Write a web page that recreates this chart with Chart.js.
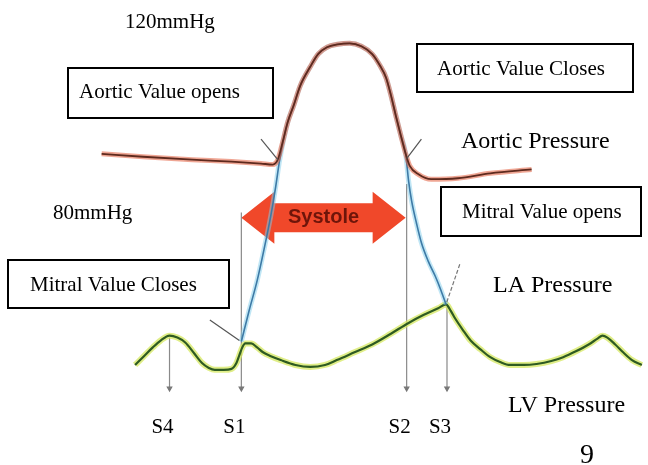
<!DOCTYPE html>
<html>
<head>
<meta charset="utf-8">
<script src="https://cdn.jsdelivr.net/npm/chart.js@4.4.1/dist/chart.umd.min.js"></script>
<style>
  html, body { margin: 0; padding: 0; background: #fff; }
  #wrap { width: 648px; height: 465px; }
</style>
</head>
<body>
<div id="wrap"><canvas id="cycleChart" width="648" height="465"></canvas></div>
<script>
// x = time along the cycle, y = pressure level (both in figure units)

// Aortic pressure
const aorticT = [98, 140, 190, 230, 260, 272, 277, 282, 287, 293, 300, 310, 318, 327, 338, 350, 362, 373, 381, 387, 392, 397, 402, 407, 411, 420, 433, 460, 493, 535];
const aorticP = [313, 310, 307, 305, 303, 302, 307, 325, 345, 362, 383, 402, 415, 422, 425, 426, 423, 415, 403, 391, 373, 352, 332, 313, 301, 292, 287, 288, 293, 297];

// LV pressure during systole (isovolumic rise, ejection, isovolumic fall)
const lvT = [240, 248, 256, 263, 270, 275, 279, 287, 293, 300, 310, 318, 327, 338, 350, 362, 373, 381, 387, 392, 397, 402, 407, 410, 413, 418, 423, 430, 437, 443, 448];
const lvP = [121, 153, 183, 215, 250, 280, 307, 345, 362, 383, 402, 415, 422, 425, 426, 423, 415, 403, 391, 373, 352, 332, 313, 285, 265, 242, 222, 203, 188, 173, 159];

// LA pressure / LV filling
const laT = [132, 141, 150, 158, 167, 175, 183, 192, 200, 207, 213, 222, 230, 235, 238, 241, 244, 250, 256, 262, 270, 280, 295, 310, 325, 337, 355, 373, 392, 410, 425, 440, 448, 453, 457, 465, 473, 483, 493, 503, 513, 527, 540, 555, 567, 580, 593, 602, 607, 612, 620, 628, 637, 647];
const laP = [97, 106, 115, 122, 127, 125, 120, 109, 99, 94, 92, 92, 93, 99, 107, 115, 119, 119, 115, 110, 106, 102, 97, 95, 97, 102, 110, 118, 129, 140, 148, 155, 159, 152, 145, 133, 122, 113, 105, 100, 97, 97, 98, 101, 105, 111, 118, 124, 127, 125, 118, 110, 102, 97];

// valve event markers (short strokes)
const aoOpenT = [260, 277],  aoOpenP = [328, 307];
const aoCloseT = [423, 408], aoCloseP = [328, 308];
const miCloseT = [208, 238], miCloseP = [143, 122];
const miOpenT = [462, 448],  miOpenP = [200, 159];

// heart sounds
const soundLabels = ["S4", "S1", "S2", "S3"];
const soundT = [167, 240, 408, 449];
const soundTop = [125, 253, 282, 159];
const soundBase = 73;

// systole runs from S1 to S2
const systoleStart = soundT[1];
const systoleEnd = soundT[2];
const systoleLevel = 247.5;

function pts(t, p) {
  return t.map((v, i) => ({ x: v, y: p[i] }));
}

function curve(t, p, color, width, order) {
  return {
    data: pts(t, p),
    borderColor: color,
    borderWidth: width,
    pointRadius: 0,
    cubicInterpolationMode: "monotone",
    fill: false,
    clip: false,
    order: order
  };
}

const datasets = [
  curve(aorticT, aorticP, "rgba(226,92,60,0.55)", 5, 6),
  curve(aorticT, aorticP, "#5e2a1e", 1.8, 5),
  curve(lvT, lvP, "rgba(130,205,235,0.5)", 5, 8),
  curve(lvT, lvP, "#3d7aa6", 1.6, 7),
  curve(laT, laP, "rgba(214,232,96,0.75)", 6, 10),
  curve(laT, laP, "#2e5b22", 2.2, 9),
  curve(aoOpenT, aoOpenP, "#555", 1.2, 4),
  curve(aoCloseT, aoCloseP, "#555", 1.2, 4),
  curve(miCloseT, miCloseP, "#555", 1.2, 4)
];

const miOpen = curve(miOpenT, miOpenP, "#777", 1.2, 4);
miOpen.borderDash = [4, 2];
datasets.push(miOpen);

soundT.forEach((t, i) => {
  datasets.push({
    data: [{ x: t, y: soundTop[i] }, { x: t, y: soundBase }],
    borderColor: "#8a8a8a",
    borderWidth: 1.2,
    pointRadius: [0, 2.5],
    pointStyle: "triangle",
    rotation: 180,
    pointBackgroundColor: "#777",
    pointBorderColor: "#777",
    clip: false,
    order: 11
  });
});

// double arrow marking systole
const systoleArrow = {
  id: "systoleArrow",
  beforeDatasetsDraw(chart) {
    const { ctx, scales: { x, y } } = chart;
    const x0 = x.getPixelForValue(systoleStart);
    const x1 = x.getPixelForValue(systoleEnd) - 1;
    const yc = y.getPixelForValue(systoleLevel);
    const shaft = 14.5, head = 26, len = 33;
    ctx.save();
    ctx.beginPath();
    ctx.moveTo(x0, yc);
    ctx.lineTo(x0 + len, yc - head);
    ctx.lineTo(x0 + len, yc - shaft);
    ctx.lineTo(x1 - len, yc - shaft);
    ctx.lineTo(x1 - len, yc - head);
    ctx.lineTo(x1, yc);
    ctx.lineTo(x1 - len, yc + head);
    ctx.lineTo(x1 - len, yc + shaft);
    ctx.lineTo(x0 + len, yc + shaft);
    ctx.lineTo(x0 + len, yc + head);
    ctx.closePath();
    ctx.fillStyle = "#f0482a";
    ctx.fill();
    ctx.fillStyle = "#6e150a";
    ctx.font = 'bold 20px "Liberation Sans", Arial, sans-serif';
    ctx.textAlign = "center";
    ctx.textBaseline = "middle";
    ctx.fillText("Systole", (x0 + x1) / 2, yc);
    ctx.restore();
  }
};

// boxed captions and free labels
const boxes = [
  { text: "Aortic Value opens",  x1: 68,  y1: 68,  x2: 273, y2: 118, tx: 79,  ty: 98 },
  { text: "Aortic Value Closes", x1: 417, y1: 44,  x2: 633, y2: 92,  tx: 437, ty: 75 },
  { text: "Mitral Value opens",  x1: 441, y1: 187, x2: 641, y2: 236, tx: 462, ty: 218 },
  { text: "Mitral Value Closes", x1: 8,   y1: 260, x2: 229, y2: 308, tx: 30,  ty: 291 }
];
const labels = [
  { text: "120mmHg", x: 125, y: 28, size: 21 },
  { text: "80mmHg", x: 53, y: 219, size: 21 },
  { text: "Aortic Pressure", x: 461, y: 148, size: 24 },
  { text: "LA Pressure", x: 493, y: 292, size: 24 },
  { text: "LV Pressure", x: 508, y: 412, size: 24 },
  { text: "9", x: 580, y: 463, size: 28 }
];

const captions = {
  id: "captions",
  afterDatasetsDraw(chart) {
    const { ctx, scales: { x } } = chart;
    ctx.save();
    ctx.textAlign = "left";
    ctx.textBaseline = "alphabetic";
    ctx.fillStyle = "#000";
    ctx.strokeStyle = "#000";
    ctx.lineWidth = 2;
    boxes.forEach(b => {
      ctx.fillStyle = "#fff";
      ctx.fillRect(b.x1, b.y1, b.x2 - b.x1, b.y2 - b.y1);
      ctx.strokeRect(b.x1, b.y1, b.x2 - b.x1, b.y2 - b.y1);
      ctx.fillStyle = "#000";
      ctx.font = '21px "Liberation Serif", "Times New Roman", serif';
      ctx.fillText(b.text, b.tx, b.ty);
    });
    labels.forEach(l => {
      ctx.font = l.size + 'px "Liberation Serif", "Times New Roman", serif';
      ctx.fillText(l.text, l.x, l.y);
    });
    // heart sound names under their markers
    ctx.font = '21px "Liberation Serif", "Times New Roman", serif';
    ctx.textAlign = "center";
    soundLabels.forEach((s, i) => {
      ctx.fillText(s, x.getPixelForValue(soundT[i]) - 7, 433);
    });
    ctx.restore();
  }
};

new Chart(document.getElementById("cycleChart"), {
  type: "line",
  data: { datasets: datasets },
  options: {
    responsive: false,
    animation: false,
    layout: { padding: 0 },
    plugins: {
      legend: { display: false },
      tooltip: { enabled: false }
    },
    scales: {
      x: { type: "linear", min: 0, max: 648, display: false },
      y: { type: "linear", min: 0, max: 465, display: false }
    }
  },
  plugins: [systoleArrow, captions]
});
</script>
</body>
</html>
